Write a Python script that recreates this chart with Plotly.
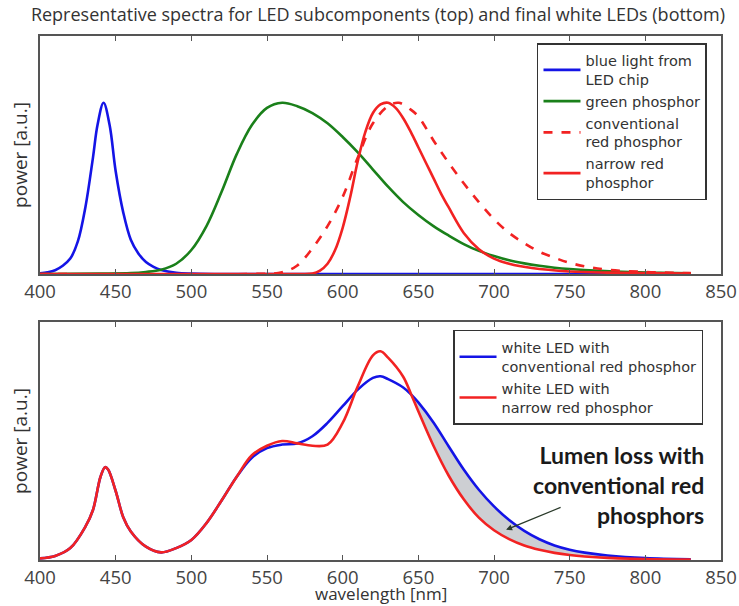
import plotly.graph_objects as go

# ---------------- data ----------------
# top panel: subcomponent spectra (normalised power, a.u.)
chip_wl = [400, 405, 410, 415, 420, 425, 430, 435, 438, 442, 446, 450, 455, 460, 465,
           470, 475, 480, 490, 500, 520, 600, 700, 830]
chip_pw = [0.004, 0.01, 0.022, 0.048, 0.09, 0.19, 0.39, 0.68, 0.87, 1.0, 0.87, 0.6, 0.36,
           0.2, 0.12, 0.07, 0.042, 0.024, 0.007, 0.002, 0.0, 0.0, 0.0, 0.0]

green_wl = [400, 440, 460, 470, 480, 490, 500, 510, 520, 530, 540, 550, 560, 570, 580,
            590, 600, 610, 620, 630, 640, 650, 660, 670, 680, 690, 700, 710, 720, 730,
            740, 750, 770, 790, 810, 830]
green_pw = [0.0, 0.002, 0.005, 0.012, 0.025, 0.06, 0.14, 0.28, 0.48, 0.7, 0.87, 0.97,
            1.0, 0.98, 0.94, 0.88, 0.8, 0.71, 0.61, 0.51, 0.42, 0.345, 0.28, 0.225, 0.175,
            0.135, 0.105, 0.08, 0.062, 0.048, 0.037, 0.029, 0.018, 0.011, 0.007, 0.004]

conv_wl = [400, 540, 560, 570, 580, 590, 600, 610, 620, 630, 637, 645, 650, 660, 670,
           680, 690, 700, 710, 720, 730, 740, 750, 760, 775, 800, 830]
conv_pw = [0.0, 0.0, 0.01, 0.05, 0.15, 0.28, 0.45, 0.68, 0.88, 0.98, 1.0, 0.96, 0.92,
           0.78, 0.65, 0.53, 0.42, 0.32, 0.24, 0.18, 0.13, 0.095, 0.065, 0.045, 0.025,
           0.012, 0.005]

narrow_wl = [400, 570, 580, 585, 590, 595, 600, 605, 610, 615, 620, 625, 630, 635, 640,
             645, 650, 655, 660, 665, 670, 680, 690, 700, 710, 725, 750, 775, 800, 830]
narrow_pw = [0.0, 0.0, 0.003, 0.02, 0.06, 0.14, 0.27, 0.45, 0.66, 0.83, 0.94, 0.99, 1.0,
             0.97, 0.91, 0.83, 0.74, 0.65, 0.56, 0.47, 0.39, 0.24, 0.145, 0.09, 0.06,
             0.035, 0.015, 0.008, 0.005, 0.003]

# bottom panel: white LED spectra
white_wl = [400, 410, 420, 430, 435, 440, 443, 445, 450, 455, 460, 470, 480, 490, 500,
            510, 520, 530, 540, 550, 560, 570, 580, 590, 600, 610, 620, 625, 630, 640,
            645, 650, 660, 670, 680, 690, 700, 710, 720, 730, 740, 750, 760, 775, 800, 830]
white_conv = [0.007, 0.017, 0.05, 0.14, 0.21, 0.35, 0.39, 0.38, 0.29, 0.18, 0.12, 0.056,
              0.032, 0.05, 0.084, 0.155, 0.25, 0.35, 0.43, 0.47, 0.485, 0.49, 0.52,
              0.576, 0.646, 0.716, 0.765, 0.772, 0.76, 0.725, 0.697, 0.662, 0.578, 0.478,
              0.38, 0.295, 0.225, 0.168, 0.122, 0.087, 0.061, 0.043, 0.031, 0.019, 0.008,
              0.003]
white_narrow = [0.007, 0.017, 0.05, 0.14, 0.21, 0.35, 0.39, 0.38, 0.29, 0.18, 0.12, 0.056,
                0.032, 0.05, 0.084, 0.155, 0.25, 0.35, 0.44, 0.48, 0.5, 0.49, 0.48,
                0.485, 0.576, 0.73, 0.86, 0.877, 0.85, 0.77, 0.70, 0.625, 0.48, 0.355,
                0.255, 0.178, 0.125, 0.088, 0.061, 0.043, 0.03, 0.021, 0.015, 0.009, 0.004,
                0.002]
loss_from = 645  # shaded "lumen loss" region starts here

x_ticks = [400, 450, 500, 550, 600, 650, 700, 750, 800, 850]

title_text = "Representative spectra for LED subcomponents (top) and final white LEDs (bottom)"

# ---------------- styling ----------------
BLUE = "#1414e6"
GREEN = "#1a801a"
RED = "#f22222"
FONT = "Open Sans"
LEGFONT = "DejaVu Sans"
AXC = "#555555"
LW = 2.6

fig = go.Figure()

# top traces
fig.add_trace(go.Scatter(x=chip_wl, y=chip_pw, mode="lines", name="blue light from<br>LED chip",
                         line=dict(color=BLUE, width=LW, shape="spline"), xaxis="x", yaxis="y",
                         legend="legend"))
fig.add_trace(go.Scatter(x=green_wl, y=green_pw, mode="lines", name="green phosphor",
                         line=dict(color=GREEN, width=LW, shape="spline"), xaxis="x", yaxis="y",
                         legend="legend"))
fig.add_trace(go.Scatter(x=conv_wl, y=conv_pw, mode="lines", name="conventional<br>red phosphor",
                         line=dict(color=RED, width=LW, shape="spline", dash="dash"),
                         xaxis="x", yaxis="y", legend="legend"))
fig.add_trace(go.Scatter(x=narrow_wl, y=narrow_pw, mode="lines", name="narrow red<br>phosphor",
                         line=dict(color=RED, width=LW, shape="spline"), xaxis="x", yaxis="y",
                         legend="legend"))

# bottom: shaded lumen-loss region
fx = [w for w in white_wl if w >= loss_from]
fy_lo = [v for w, v in zip(white_wl, white_narrow) if w >= loss_from]
fy_hi = [v for w, v in zip(white_wl, white_conv) if w >= loss_from]
fig.add_trace(go.Scatter(x=fx, y=fy_lo, mode="lines", line=dict(width=0, shape="spline"),
                         showlegend=False, hoverinfo="skip", xaxis="x2", yaxis="y2"))
fig.add_trace(go.Scatter(x=fx, y=fy_hi, mode="lines", line=dict(width=0, shape="spline"),
                         fill="tonexty", fillcolor="#cdcfd3", showlegend=False,
                         hoverinfo="skip", xaxis="x2", yaxis="y2"))

fig.add_trace(go.Scatter(x=white_wl, y=white_conv, mode="lines",
                         name="white LED with<br>conventional red phosphor",
                         line=dict(color=BLUE, width=LW, shape="spline"), xaxis="x2", yaxis="y2",
                         legend="legend2"))
fig.add_trace(go.Scatter(x=white_wl, y=white_narrow, mode="lines",
                         name="white LED with<br>narrow red phosphor",
                         line=dict(color=RED, width=LW, shape="spline"), xaxis="x2", yaxis="y2",
                         legend="legend2"))

xaxis_common = dict(range=[400, 850], tickvals=x_ticks, ticks="inside", ticklen=5,
                    tickcolor=AXC, showline=True, linecolor=AXC, linewidth=1.6,
                    mirror="ticks", showgrid=False, zeroline=False, automargin=False,
                    tickfont=dict(family=FONT, size=18.5, color="#444444"))
yaxis_common = dict(showticklabels=False, ticks="", showline=True, linecolor=AXC,
                    linewidth=1.6, mirror=True, showgrid=False, zeroline=False,
                    automargin=False)

ytitle = dict(text="power [a.u.]", standoff=6,
              font=dict(family=FONT, size=19, color="#333333"))

legend_common = dict(bgcolor="white", bordercolor="#333333", borderwidth=1.5,
                     font=dict(family=LEGFONT, size=14.5, color="#333333"),
                     xanchor="left", yanchor="top", tracegroupgap=0, traceorder="normal",
                     itemwidth=37)

fig.update_layout(
    width=739, height=606,
    margin=dict(l=40, r=18, t=36, b=46, autoexpand=False),
    paper_bgcolor="white", plot_bgcolor="white",
    title=dict(text=title_text, x=378 / 739, xanchor="center", y=1 - 15 / 606,
               yanchor="middle", font=dict(family=FONT, size=18, color="#333333")),
    xaxis=dict(domain=[0, 1], anchor="y", **xaxis_common),
    yaxis=dict(domain=[0.5458, 1], anchor="x", range=[0, 1.39], title=ytitle,
               **yaxis_common),
    xaxis2=dict(domain=[0, 1], anchor="y2", **xaxis_common),
    yaxis2=dict(domain=[0, 0.4542], anchor="x2", range=[0, 1.0], title=ytitle,
                **yaxis_common),
    legend=dict(x=0.7298, y=0.9866, **legend_common),
    legend2=dict(x=0.6065, y=0.439, **legend_common),
    showlegend=True,
)

# x-axis title of the lower panel
fig.add_annotation(text="wavelength [nm]", xref="paper", yref="paper", x=0.5,
                   y=-(593 - 560) / 524, xanchor="center", yanchor="middle",
                   showarrow=False, font=dict(family=FONT, size=17, color="#333333"))

fig.add_annotation(text="<b>Lumen loss with<br>conventional red<br>phosphors</b>",
                   xref="x2", yref="y2", x=840, y=0.316, xanchor="right", yanchor="middle",
                   align="right", showarrow=False,
                   font=dict(family="Lato", size=23, color="#1a1a1a"))
fig.add_annotation(text="", xref="x2", yref="y2", x=708, y=0.127, ax=56, ay=-23,
                   showarrow=True, arrowhead=2, arrowsize=1, arrowwidth=1.2,
                   arrowcolor="#2a3a2a")

# the page body has a default 8px margin; remove it so the figure fills the window
fig.write_html("out.html", config={"displayModeBar": False},
               post_script="document.body.style.margin='0';")
